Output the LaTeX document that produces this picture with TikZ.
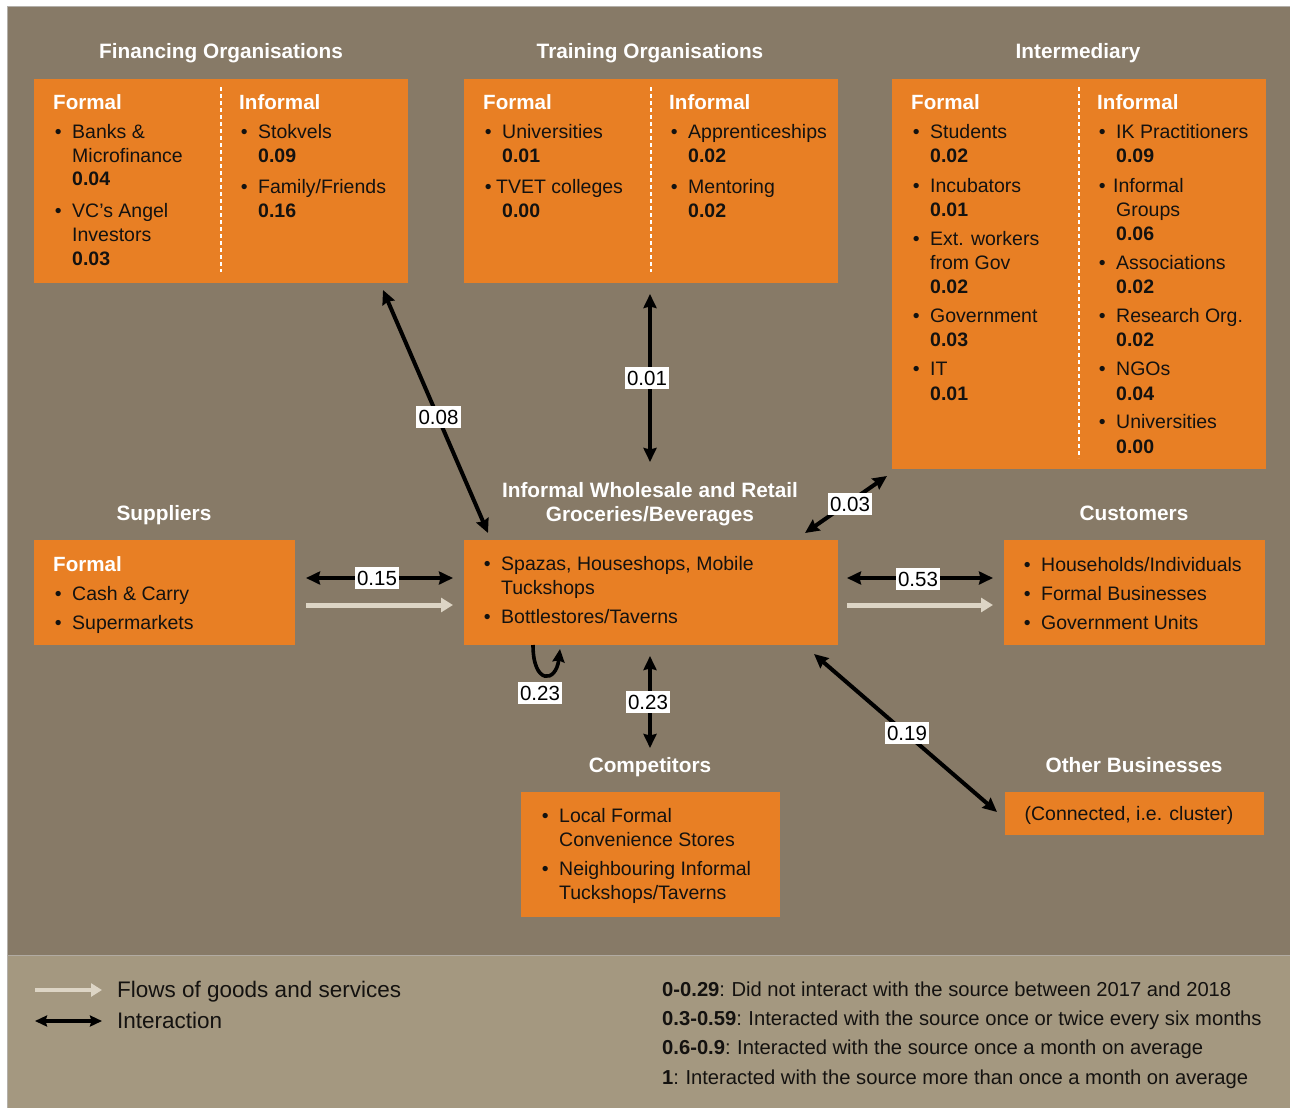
\documentclass[tikz,border=0pt]{standalone}
\usepackage{fontspec}
\setmainfont{Liberation Sans}
\usetikzlibrary{arrows.meta}

\definecolor{bgbrown}{HTML}{877A67}
\definecolor{legbg}{HTML}{A49880}
\definecolor{boxor}{HTML}{E87F24}
\definecolor{flowc}{HTML}{DDD5C5}
\definecolor{txt}{HTML}{141210}
\definecolor{edge}{HTML}{B4B0AA}

\newcommand\bodyfont{\fontsize{19.5}{24}\selectfont}
\newcommand\ttlfont{\fontsize{20.8}{24}\selectfont\bfseries}
\newcommand\hd[1]{\textcolor{white}{\fontsize{20.6}{24}\selectfont\bfseries #1}}
\newcommand\lst[1]{\begin{tabular}[t]{@{}l@{}}#1\end{tabular}}
\newcommand\bi{\makebox[10pt]{\textbullet}\hspace{9pt}}
\newcommand\ci{\hspace{19pt}}
\newcommand\val[1]{\ci\textbf{#1}}

\begin{document}
\begin{tikzpicture}[x=1pt,y=-1pt,
  box/.style={fill=boxor, inner sep=0pt, outer sep=0pt, anchor=north west},
  ttl/.style={text=white, font=\ttlfont, inner sep=0pt, anchor=base},
  col/.style={inner sep=0pt, anchor=base west, font=\bodyfont, text=txt},
  lab/.style={fill=white, text=black, font=\fontsize{20.5}{24}\selectfont, inner xsep=2.5pt, inner ysep=3.5pt},
  divider/.style={draw=white, line width=1.3pt, dash pattern=on 4pt off 3pt},
  inter/.style={line width=4pt, {Stealth[length=14pt,width=13pt,inset=1.5pt]}-{Stealth[length=14pt,width=13pt,inset=1.5pt]}},
  selfloop/.style={line width=3.6pt, -{Stealth[length=13pt,width=12pt,inset=1.5pt]}},
  flw/.style={draw=flowc, line width=5pt, -{Triangle[length=12pt,width=14pt]}},
  keyinter/.style={line width=3.6pt, {Stealth[length=12pt,width=11pt,inset=1.5pt]}-{Stealth[length=12pt,width=11pt,inset=1.5pt]}},
  keyflw/.style={draw=flowc, line width=4.5pt, -{Triangle[length=11pt,width=13pt]}}
]
\useasboundingbox (0,0) rectangle (1290,1108);
\fill[white] (0,0) rectangle (1290,1108);

% panels
\fill[bgbrown] (7,7) rectangle (1291,955);
\fill[legbg] (7,955) rectangle (1291,1109);
\draw[edge, line width=1pt] (7,1109) -- (7,7) -- (1291,7);
\draw[edge!80!legbg, line width=1pt] (7,955) -- (1291,955);

% boxes
\node[box, minimum width=374pt, minimum height=204pt] (fin) at (34,79) {};
\node[box, minimum width=374pt, minimum height=204pt] (train) at (464,79) {};
\node[box, minimum width=374pt, minimum height=390pt] (int) at (892,79) {};
\node[box, minimum width=261pt, minimum height=105pt] (sup) at (34,540) {};
\node[box, minimum width=374pt, minimum height=105pt] (hub) at (464,540) {};
\node[box, minimum width=261pt, minimum height=105pt] (cust) at (1004,540) {};
\node[box, minimum width=259pt, minimum height=125pt] (comp) at (521,792) {};
\node[box, minimum width=259pt, minimum height=43pt] (oth) at (1005,792) {};

% dashed column dividers
\draw[divider] ([shift={(187,8)}]fin.north west) -- ([shift={(187,-11)}]fin.south west);
\draw[divider] ([shift={(187,8)}]train.north west) -- ([shift={(187,-11)}]train.south west);
\draw[divider] ([shift={(187,8)}]int.north west) -- ([shift={(187,-11)}]int.south west);

% titles
\node[ttl] (tFin) at (221,59) {Financing Organisations};
\node[ttl] (tTrain) at (650,59) {Training Organisations};
\node[ttl] (tInt) at (1078,59) {Intermediary};
\node[ttl] (tSup) at (164,520) {Suppliers};
\node[ttl] (tHub) at (650,497) {\begin{tabular}[t]{@{}c@{}}Informal Wholesale and Retail\\Groceries/Beverages\end{tabular}};
\node[ttl] (tCust) at (1134,520) {Customers};
\node[ttl] (tComp) at (650,772) {Competitors};
\node[ttl] (tOth) at (1134,772) {Other Businesses};

% financing organisations
\node[col] (finF) at (53,109) {\lst{\hd{Formal}\\[5pt]
  \bi Banks \&\\ \ci Microfinance\\ \val{0.04}\\[7pt]
  \bi VC’s Angel\\ \ci Investors\\ \val{0.03}}};
\node[col] (finI) at (239,109) {\lst{\hd{Informal}\\[5pt]
  \bi Stokvels\\ \val{0.09}\\[7pt]
  \bi Family/Friends\\ \val{0.16}}};

% training organisations
\node[col] (trF) at (483,109) {\lst{\hd{Formal}\\[5pt]
  \bi Universities\\ \val{0.01}\\[7pt]
  \makebox[10pt]{\textbullet}\hspace{3pt}TVET colleges\\ \val{0.00}}};
\node[col] (trI) at (669,109) {\lst{\hd{Informal}\\[5pt]
  \bi Apprenticeships\\ \val{0.02}\\[7pt]
  \bi Mentoring\\ \val{0.02}}};

% intermediary
\node[col] (inF) at (911,109) {\lst{\hd{Formal}\\[5pt]
  \bi Students\\ \val{0.02}\\[6pt]
  \bi Incubators\\ \val{0.01}\\[5pt]
  \bi Ext. workers\\ \ci from Gov\\ \val{0.02}\\[5pt]
  \bi Government\\ \val{0.03}\\[6pt]
  \bi IT\\ \val{0.01}}};
\node[col] (inI) at (1097,109) {\lst{\hd{Informal}\\[5pt]
  \bi IK Practitioners\\ \val{0.09}\\[6pt]
  \makebox[10pt]{\textbullet}\hspace{6pt}Informal\\ \ci Groups\\ \val{0.06}\\[5pt]
  \bi Associations\\ \val{0.02}\\[5pt]
  \bi Research Org.\\ \val{0.02}\\[6pt]
  \bi NGOs\\ \val{0.04}\\[5pt]
  \bi Universities\\ \val{0.00}}};

% middle row
\node[col] (supL) at (53,571) {\lst{\hd{Formal}\\[5pt]
  \bi Cash \& Carry\\[5pt]
  \bi Supermarkets}};
\node[col] (hubL) at (482,570) {\lst{\bi Spazas, Houseshops, Mobile\\ \ci Tuckshops\\[5pt]
  \bi Bottlestores/Taverns}};
\node[col] (custL) at (1022,571) {\lst{\bi Households/Individuals\\[5pt]
  \bi Formal Businesses\\[5pt]
  \bi Government Units}};

% bottom row
\node[col] (compL) at (540,822) {\lst{\bi Local Formal\\ \ci Convenience Stores\\[5pt]
  \bi Neighbouring Informal\\ \ci Tuckshops/Taverns}};
\node[col, anchor=base] (othL) at (1129,820) {(Connected, i.e. cluster)};

% interactions
\draw[inter] ([shift={(-25,7)}]fin.south east) -- ([shift={(24,-7)}]hub.north west);
\draw[inter] ([shift={(-1,11)}]train.south) -- ([shift={(-1,-78)}]hub.north);
\draw[inter] ([shift={(-5,7)}]int.south west) -- ([shift={(-33,-7)}]hub.north east);
\draw[inter] ([shift={(11,38)}]sup.north east) -- ([shift={(-11,38)}]hub.north west);
\draw[inter] ([shift={(9,38)}]hub.north east) -- ([shift={(-11,38)}]cust.north west);
\draw[inter] ([shift={(-1,11)}]hub.south) -- ([shift={(-0.5,-44)}]comp.north);
\draw[inter] ([shift={(-24,9)}]hub.south east) -- ([shift={(-8,20)}]oth.north west);
\draw[selfloop] ([shift={(69,0)}]hub.south west) .. controls +(0,40) and +(-4,34) .. ([shift={(96,4)}]hub.south west);

% flows of goods
\draw[flw] ([shift={(11,65)}]sup.north east) -- ([shift={(-11,65)}]hub.north west);
\draw[flw] ([shift={(9,65)}]hub.north east) -- ([shift={(-11,65)}]cust.north west);

% interaction scores
\node[lab] (s08) at (438.5,417) {0.08};
\node[lab] (s01) at (647,378) {0.01};
\node[lab] (s03) at (850,504) {0.03};
\node[lab] (s15) at (377,578) {0.15};
\node[lab] (s53) at (918,579) {0.53};
\node[lab] (s23a) at (540,693) {0.23};
\node[lab] (s23b) at (648,702) {0.23};
\node[lab] (s19) at (907,733) {0.19};

% key
\node[col, font=\fontsize{22.5}{31}\selectfont] (legFlow) at (117,997) {Flows of goods and services};
\node[col, font=\fontsize{22.5}{31}\selectfont] (legInt) at (117,1028) {Interaction};
\draw[keyflw] ([shift={(-82,-7)}]legFlow.base west) -- ([shift={(-15,-7)}]legFlow.base west);
\draw[keyinter] ([shift={(-82,-7)}]legInt.base west) -- ([shift={(-15,-7)}]legInt.base west);
\node[col, font=\fontsize{20.2}{29.4}\selectfont] (scale) at (662,996) {\lst{%
  \textbf{0-0.29}:\hspace{-1pt} Did not interact with the source between 2017 and 2018\\
  \textbf{0.3-0.59}:\hspace{-1pt} Interacted with the source once or twice every six months\\
  \textbf{0.6-0.9}:\hspace{-1pt} Interacted with the source once a month on average\\
  \textbf{1}:\hspace{-1pt} Interacted with the source more than once a month on average}};
\end{tikzpicture}
\end{document}
